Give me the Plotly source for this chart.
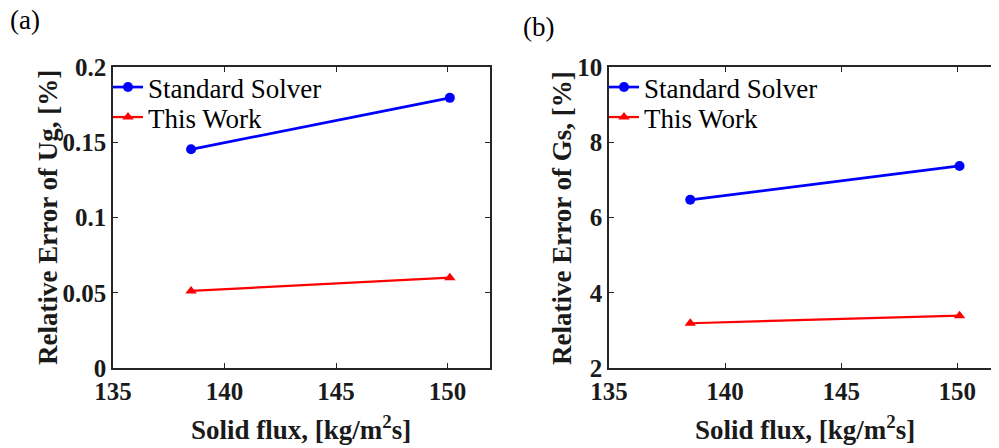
import plotly.graph_objects as go

# Data
solid_flux = [138.5, 150.1]
ug_standard = [0.1453, 0.1795]
ug_this_work = [0.0512, 0.0600]
gs_standard = [6.47, 7.37]
gs_this_work = [3.19, 3.39]

x_ticks = [135, 140, 145, 150]
ya_ticks = [0, 0.05, 0.1, 0.15, 0.2]
ya_labels = ["0", "0.05", "0.1", "0.15", "0.2"]
yb_ticks = [2, 4, 6, 8, 10]

# page has an 8px body margin; figure drawn at (8, 8)
OFF = 8
W, H = 999 - OFF, 448 - OFF


def PX(px):
    return (px - OFF) / W


def PY(py):
    return 1 - (py - OFF) / H


BLUE = "#0000FF"
RED = "#FF0000"
AX = "#262626"
SERIF = "Liberation Serif"

fig = go.Figure()


def add_pair(xa, ya, s_vals, t_vals, leg_s, leg_t):
    fig.add_trace(go.Scatter(
        x=solid_flux, y=s_vals, mode="lines+markers", name="Standard Solver",
        xaxis=xa, yaxis=ya, legend=leg_s, showlegend=True,
        line=dict(color=BLUE, width=2.7),
        marker=dict(symbol="circle", size=10, color=BLUE)))
    fig.add_trace(go.Scatter(
        x=solid_flux, y=t_vals, mode="lines+markers", name="This Work",
        xaxis=xa, yaxis=ya, legend=leg_t, showlegend=True,
        line=dict(color=RED, width=2.2),
        marker=dict(symbol="triangle-up", size=10, color=RED)))


add_pair("x", "y", ug_standard, ug_this_work, "legend", "legend2")
add_pair("x2", "y2", gs_standard, gs_this_work, "legend3", "legend4")

ydom = [PY(368), PY(67)]
common_axis = dict(
    showline=True, mirror="ticks", linecolor=AX, linewidth=1.6,
    ticks="inside", ticklen=5, tickcolor=AX, tickwidth=1.2,
    showgrid=False, zeroline=False, automargin=False,
    tickfont=dict(family=SERIF, size=25, color="#1a1a1a", weight="bold"),
)

legend_common = dict(xanchor="left", yanchor="top",
                     bgcolor="rgba(0,0,0,0)", itemwidth=30,
                     font=dict(family=SERIF, size=27, color="#000000"),
                     tracegroupgap=0)

fig.update_layout(
    width=W, height=H,
    showlegend=True,
    margin=dict(l=0, r=0, t=0, b=0, autoexpand=False),
    paper_bgcolor="white", plot_bgcolor="white",
    xaxis=dict(domain=[PX(113), PX(490)], range=[135, 151.9],
               tickvals=x_ticks, anchor="y", **common_axis),
    yaxis=dict(domain=ydom, range=[0, 0.2], tickvals=ya_ticks,
               ticktext=ya_labels, anchor="x", **common_axis),
    xaxis2=dict(domain=[PX(609), 1.0], range=[135, 151.8],
                tickvals=x_ticks, anchor="y2", **common_axis),
    yaxis2=dict(domain=ydom, range=[2, 10], tickvals=yb_ticks,
                anchor="x2", **common_axis),
    legend=dict(x=PX(108), y=PY(63), **legend_common),
    legend2=dict(x=PX(108), y=PY(93), **legend_common),
    legend3=dict(x=PX(604), y=PY(63), **legend_common),
    legend4=dict(x=PX(604), y=PY(93), **legend_common),
)

title_font = dict(family=SERIF, size=27, color="#1a1a1a", weight="bold")
xtitle = "Solid flux, [kg/m<sup>2</sup>s]"
annotations = [
    dict(text="(a)", x=PX(25), y=PY(20), font=dict(family=SERIF, size=27, color="black")),
    dict(text="(b)", x=PX(538), y=PY(27), font=dict(family=SERIF, size=27, color="black")),
    dict(text="Relative Error of Ug, [%]", x=PX(48), y=PY(218), textangle=-90, font=title_font),
    dict(text="Relative Error of Gs, [%]", x=PX(562), y=PY(218), textangle=-90, font=title_font),
    dict(text=xtitle, x=PX(301), y=PY(428), font=title_font),
    dict(text=xtitle, x=PX(805), y=PY(428), font=title_font),
]
for a in annotations:
    a.update(xref="paper", yref="paper", showarrow=False,
             xanchor="center", yanchor="middle")
fig.update_layout(annotations=annotations)

fig.write_html("out.html")
